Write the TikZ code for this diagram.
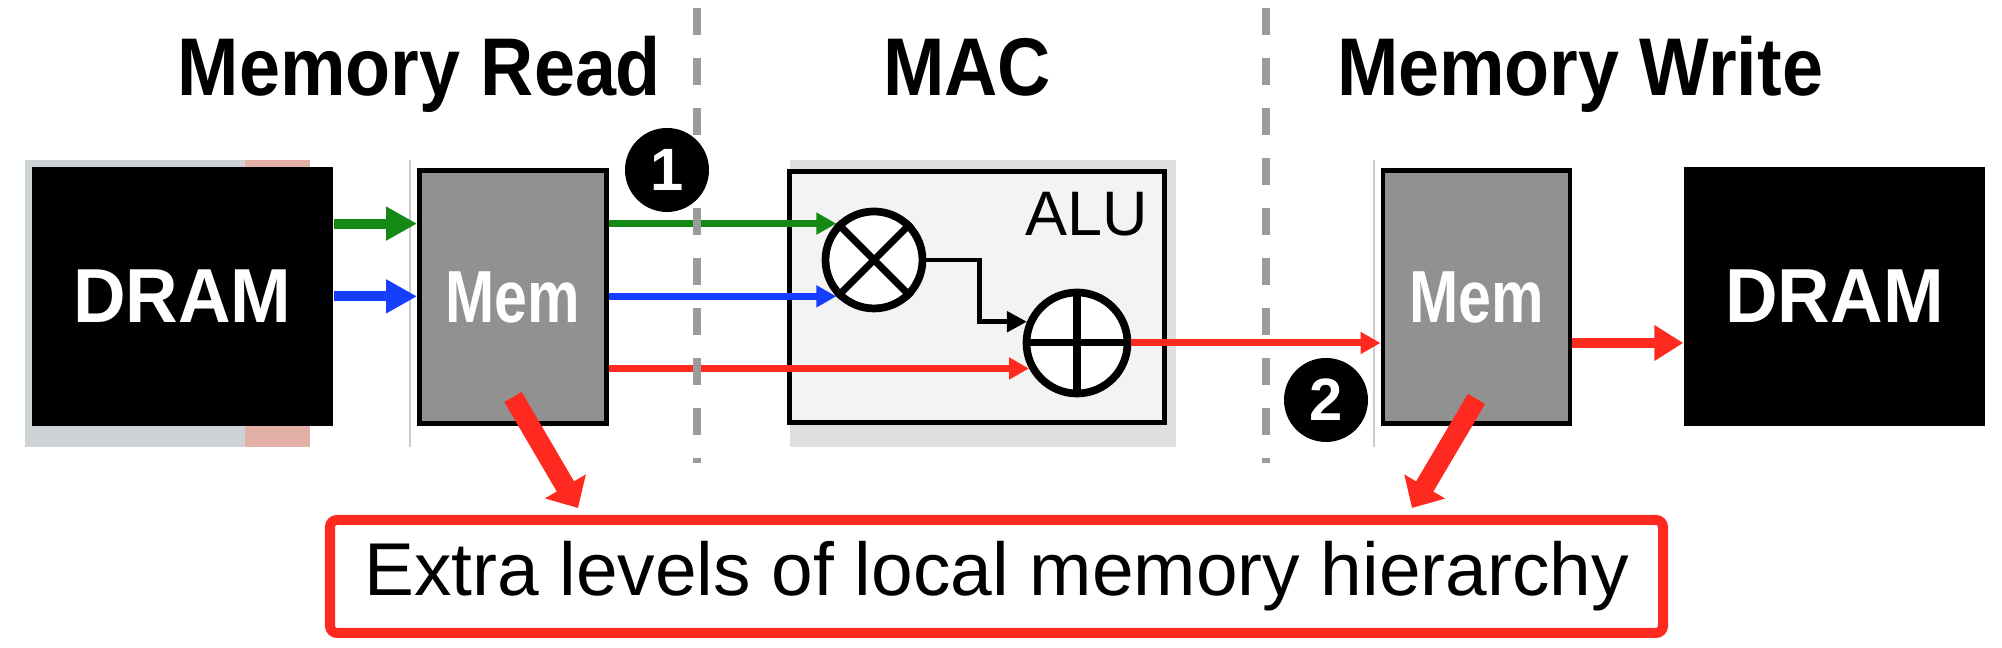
\documentclass[tikz,border=0pt]{standalone}
\usepackage{fontspec}
\setmainfont{Liberation Sans}
\newfontfamily\memfont[FakeStretch=0.8]{Liberation Sans}
\newfontfamily\titlefont[FakeStretch=0.9]{Liberation Sans}
\newfontfamily\dramfont[FakeStretch=0.95]{Liberation Sans}
\usetikzlibrary{arrows.meta}
\definecolor{arrowgreen}{RGB}{20,138,20}
\definecolor{arrowblue}{RGB}{22,62,255}
\definecolor{arrowred}{RGB}{255,42,31}
\definecolor{memgray}{RGB}{145,145,145}
\definecolor{alufill}{RGB}{243,243,243}
\definecolor{sepgray}{RGB}{155,155,155}
\definecolor{bandgray}{RGB}{205,210,214}
\definecolor{bandred}{RGB}{226,176,166}

\begin{document}
\begin{tikzpicture}[
  every node/.style={inner sep=0pt},
  >=Latex,
  stagetitle/.style={anchor=base, font=\titlefont\fontsize{23.3}{27}\selectfont\bfseries},
  dram/.style={fill=black, text=white, minimum width=3.01cm, minimum height=2.59cm,
    font=\dramfont\fontsize{21.8}{25}\selectfont\bfseries},
  membox/.style={draw=black, line width=1.4pt, fill=memgray, text=white,
    minimum width=1.87cm, minimum height=2.53cm,
    font=\memfont\fontsize{21}{24}\selectfont\bfseries},
  opcircle/.style={circle, draw=black, line width=2.2pt, fill=white, minimum size=0.97cm},
  stepmark/.style={circle, fill=black, text=white, minimum size=0.84cm,
    font=\fontsize{17}{20}\selectfont\bfseries},
  thinflow/.style={line width=2pt, -{Triangle[length=0.2cm, width=0.21cm]}},
  thickflow/.style={line width=2.85pt, -{Triangle[length=0.31cm, width=0.32cm]}},
  bigarrow/.style={arrowred, line width=5.7pt, -{Triangle[length=0.25cm, width=0.46cm]}},
  separator/.style={sepgray, line width=2pt, dash pattern=on 0.27cm off 0.23cm}
]

\path[use as bounding box] (0,0) rectangle (20.02,6.48);

% Scan bands behind the DRAM and ALU boxes.
\fill[bandgray] (0.25,2.01) rectangle (2.45,4.88);
\fill[bandred] (2.45,2.01) rectangle (3.10,4.88);
\fill[gray!25] (7.90,2.01) rectangle (11.76,4.88);
\draw[gray!40, line width=0.6pt] (4.10,2.01) -- (4.10,4.88);
\draw[gray!40, line width=0.6pt] (13.74,2.01) -- (13.74,4.88);

% Stage titles.
\node[stagetitle] (readtitle) at (4.195,5.52) {Memory Read};
\node[stagetitle] (mactitle) at (9.67,5.52) {MAC};
\node[stagetitle] (writetitle) at (15.80,5.52) {Memory Write};

% Memories.
\node[dram] (dramA) at (1.825,3.515) {DRAM};
\node[membox] (memA) at (5.13,3.51) {Mem};
\node[membox] (memB) at (14.765,3.51) {Mem};
\node[dram] (dramB) at (18.345,3.515) {DRAM};

% ALU with multiplier and adder.
\node[draw=black, line width=1.4pt, fill=alufill, minimum width=3.75cm,
  minimum height=2.51cm] (alu) at (9.77,3.51) {};
\node[font=\fontsize{17.9}{21}\selectfont] (alulabel) at (10.87,4.335) {ALU};
\node[opcircle] (mul) at (8.74,3.88) {};
\draw[line width=2pt] (mul.45) -- (mul.225) (mul.135) -- (mul.315);
\node[opcircle, minimum size=1.01cm] (add) at (10.77,3.05) {};
\draw[line width=2pt] (add.north) -- (add.south) (add.west) -- (add.east);

% Operand flow.
\draw[thickflow, arrowgreen] (dramA.east |- mul.136) -- (memA.west |- mul.136);
\draw[thickflow, arrowblue] (dramA.east |- mul.224) -- (memA.west |- mul.224);
\draw[thinflow, arrowgreen] (memA.east |- mul.136) -- (mul.136);
\draw[thinflow, arrowblue] (memA.east |- mul.224) -- (mul.224);
\draw[thinflow, arrowred] (memA.east |- add.208) -- (add.208);
\draw[line width=1.4pt, -{Triangle[length=0.2cm, width=0.2cm]}]
  (mul.east) -- ++(0.53,0) |- (add.157);
\draw[thinflow, arrowred] (add.east) -- (memB.west |- add.east);
\draw[thickflow, arrowred, -{Triangle[length=0.29cm, width=0.34cm]}]
  (memB.east |- add.east) -- (dramB.west |- add.east);

% Stage separators.
\draw[separator] (6.97,6.40) -- (6.97,1.85);
\draw[separator] (12.66,6.40) -- (12.66,1.85);

% Step markers.
\node[stepmark] (stepone) at (6.67,4.78) {1};
\node[stepmark] (steptwo) at (13.26,2.48) {2};

% Note on the extra levels.
\node[draw=arrowred, line width=2.85pt, rounded corners=2pt, fill=white,
  minimum width=13.33cm, minimum height=1.13cm,
  font=\fontsize{21.3}{25}\selectfont] (note) at (9.965,0.715)
  {Extra levels of local memory hierarchy};
\coordinate (tipA) at (5.78,1.40);
\coordinate (tipB) at (14.12,1.40);
\draw[bigarrow] ([yshift=2.9mm]memA.south) -- (tipA);
\draw[bigarrow] ([yshift=2.7mm]memB.south) -- (tipB);

\end{tikzpicture}
\end{document}
